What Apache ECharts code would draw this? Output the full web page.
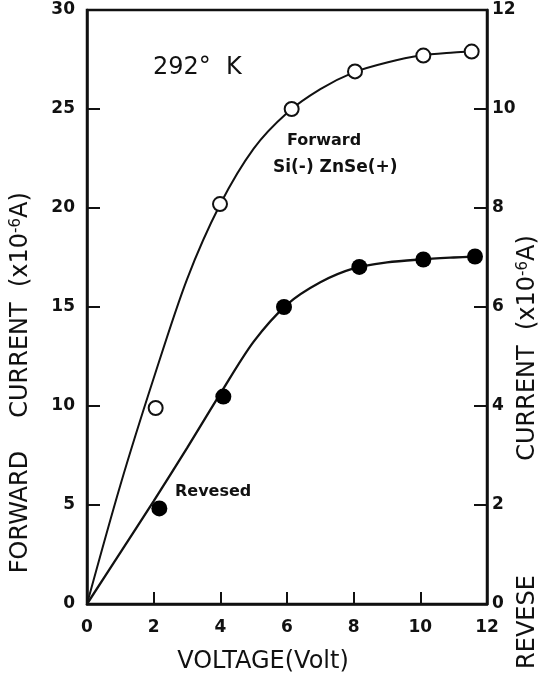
<!DOCTYPE html>
<html>
<head>
<meta charset="utf-8">
<script src="https://cdn.jsdelivr.net/npm/echarts@6/dist/echarts.min.js"></script>
<style>html,body{margin:0;padding:0;background:#fff;}#c{width:547px;height:683px;}</style>
</head>
<body>
<div id="c"></div>
<script>
// Measured points: forward current (left axis, x10^-6 A)
var forwardPoints = [[2.06, 9.9], [3.99, 20.2], [6.14, 25.0], [8.04, 26.9], [10.09, 27.7], [11.54, 27.9]];
// Fitted forward curve as drawn in the picture
var forwardCurve = [[0, 0], [1, 6.0], [2, 11.4], [3, 16.4], [4, 20.2], [5, 23.0], [6, 24.8], [7, 26.0], [8, 26.85], [9, 27.35], [10, 27.7], [11, 27.85], [11.54, 27.9]];
// Measured points: reverse current (right axis, x10^-6 A)
var reversePoints = [[2.17, 1.93], [4.09, 4.19], [5.91, 6.0], [8.17, 6.81], [10.09, 6.96], [11.64, 7.02]];
// Fitted reverse curve as drawn in the picture
var reverseCurve = [[0, 0], [1, 1.04], [2, 2.08], [3, 3.15], [4, 4.25], [5, 5.3], [6, 6.05], [7, 6.5], [8, 6.78], [9, 6.9], [10, 6.96], [11, 7.0], [11.64, 7.02]];
var xTicks = [0, 2, 4, 6, 8, 10, 12];
var leftTicks = [0, 5, 10, 15, 20, 25, 30];
var rightTicks = [0, 2, 4, 6, 8, 10, 12];

var chart = echarts.init(document.getElementById('c'), null, {renderer: 'canvas'});
var ink = '#111';
var tickFont = {color: ink, fontFamily: 'DejaVu Sans', fontWeight: 'bold', fontSize: 17};
var titleRich = {
  t: {font: '24px "DejaVu Sans"', fill: ink, letterSpacing: 3},
  s: {font: '15px "DejaVu Sans"', fill: ink, verticalAlign: 'top', padding: [0, 0, 10, 0]}
};

chart.setOption({
  backgroundColor: '#fff',
  animation: false,
  grid: {left: 87, right: 60, top: 10, bottom: 79, show: true, borderColor: ink, borderWidth: 2.5, backgroundColor: 'transparent'},
  xAxis: {
    type: 'value', min: xTicks[0], max: xTicks[xTicks.length - 1], interval: 2,
    axisLine: {show: true, lineStyle: {color: ink, width: 2.5}},
    axisTick: {show: true, inside: true, length: 12, lineStyle: {color: ink, width: 2}},
    axisLabel: Object.assign({margin: 15}, tickFont),
    splitLine: {show: false}
  },
  yAxis: [
    {
      type: 'value', position: 'left', min: leftTicks[0], max: leftTicks[leftTicks.length - 1], interval: 5,
      axisLine: {show: true, lineStyle: {color: ink, width: 2.5}},
      axisTick: {show: true, inside: true, length: 13, lineStyle: {color: ink, width: 2}},
      axisLabel: Object.assign({margin: 12}, tickFont),
      splitLine: {show: false}
    },
    {
      type: 'value', position: 'right', min: rightTicks[0], max: rightTicks[rightTicks.length - 1], interval: 2,
      axisLine: {show: true, lineStyle: {color: ink, width: 2.5}},
      axisTick: {show: true, inside: true, length: 13, lineStyle: {color: ink, width: 2}},
      axisLabel: Object.assign({margin: 5}, tickFont),
      splitLine: {show: false}
    }
  ],
  series: [
    {type: 'line', data: forwardCurve, yAxisIndex: 0, smooth: 0.3, showSymbol: false, lineStyle: {color: ink, width: 2}, z: 2},
    {type: 'line', data: reverseCurve, yAxisIndex: 1, smooth: 0.3, showSymbol: false, lineStyle: {color: ink, width: 2.3}, z: 2},
    {type: 'scatter', data: forwardPoints, yAxisIndex: 0, symbol: 'circle', symbolSize: 14,
      itemStyle: {color: '#fff', borderColor: ink, borderWidth: 2, opacity: 1}, z: 5},
    {type: 'scatter', data: reversePoints, yAxisIndex: 1, symbol: 'circle', symbolSize: 16,
      itemStyle: {color: '#000', opacity: 1}, z: 5}
  ],
  graphic: [
    {type: 'text', left: 153, top: 56, style: {text: '292°  K', font: '24px "DejaVu Sans"', fill: ink, letterSpacing: 2}},
    {type: 'text', left: 287, top: 133, style: {text: 'Forward', font: 'bold 16px "DejaVu Sans"', fill: ink, letterSpacing: 4}},
    {type: 'text', left: 273, top: 159, style: {text: 'Si(-) ZnSe(+)', font: 'bold 17px "DejaVu Sans"', fill: ink, letterSpacing: 2}},
    {type: 'text', left: 175, top: 484, style: {text: 'Revesed', font: 'bold 16px "DejaVu Sans"', fill: ink, letterSpacing: 1}},
    {type: 'text', x: 263, y: 662, style: {text: 'VOLTAGE(Volt)', font: '24px "DejaVu Sans"', fill: ink, align: 'center', verticalAlign: 'middle', letterSpacing: 3}},
    {type: 'text', x: 21, y: 512, rotation: Math.PI / 2,
      style: {text: '{t|FORWARD}', align: 'center', verticalAlign: 'middle', rich: titleRich}},
    {type: 'text', x: 21, y: 305, rotation: Math.PI / 2,
      style: {text: '{t|CURRENT  (x10}{s|-6}{t|A)}', align: 'center', verticalAlign: 'middle', rich: titleRich}},
    {type: 'text', x: 528, y: 622, rotation: Math.PI / 2,
      style: {text: '{t|REVESE}', align: 'center', verticalAlign: 'middle', rich: titleRich}},
    {type: 'text', x: 528, y: 348, rotation: Math.PI / 2,
      style: {text: '{t|CURRENT  (x10}{s|-6}{t|A)}', align: 'center', verticalAlign: 'middle', rich: titleRich}}
  ]
});
</script>
</body>
</html>
